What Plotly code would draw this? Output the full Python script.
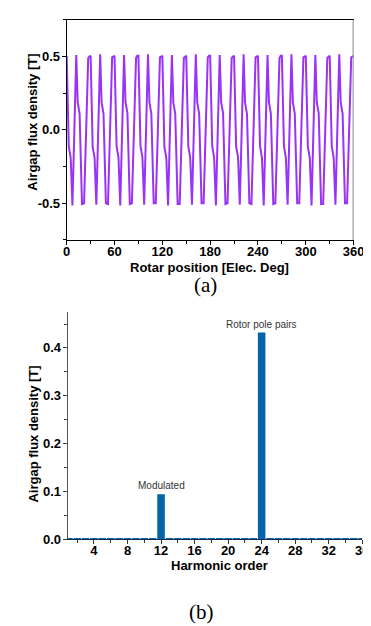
import plotly.graph_objects as go

# ---------------- Data: (a) airgap flux density waveform ----------------
rotor_position_deg = [
    0.0, 2.6, 5.0, 7.2, 12.0, 13.8, 16.2, 19.2, 21.8, 27.0, 28.5,
    30.0, 32.6, 35.0, 37.2, 42.0, 43.8, 46.2, 49.2, 51.8, 57.0, 58.5,
    60.0, 62.6, 65.0, 67.2, 72.0, 73.8, 76.2, 79.2, 81.8, 87.0, 88.5,
    90.0, 92.6, 95.0, 97.2, 102.0, 103.8, 106.2, 109.2, 111.8, 117.0, 118.5,
    120.0, 122.6, 125.0, 127.2, 132.0, 133.8, 136.2, 139.2, 141.8, 147.0, 148.5,
    150.0, 152.6, 155.0, 157.2, 162.0, 163.8, 166.2, 169.2, 171.8, 177.0, 178.5,
    180.0, 182.6, 185.0, 187.2, 192.0, 193.8, 196.2, 199.2, 201.8, 207.0, 208.5,
    210.0, 212.6, 215.0, 217.2, 222.0, 223.8, 226.2, 229.2, 231.8, 237.0, 238.5,
    240.0, 242.6, 245.0, 247.2, 252.0, 253.8, 256.2, 259.2, 261.8, 267.0, 268.5,
    270.0, 272.6, 275.0, 277.2, 282.0, 283.8, 286.2, 289.2, 291.8, 297.0, 298.5,
    300.0, 302.6, 305.0, 307.2, 312.0, 313.8, 316.2, 319.2, 321.8, 327.0, 328.5,
    330.0, 332.6, 335.0, 337.2, 342.0, 343.8, 346.2, 349.2, 351.8, 357.0, 358.5,
    360.0,
]
flux_density_T = [
    0.505, -0.11, -0.19, -0.515, 0.510, 0.190, 0.110, -0.505, -0.500, 0.490, 0.500,
    0.505, -0.115, -0.19, -0.510, 0.515, 0.185, 0.110, -0.500, -0.505, 0.495, 0.500,
    0.505, -0.110, -0.19, -0.515, 0.510, 0.190, 0.115, -0.505, -0.500, 0.490, 0.505,
    0.505, -0.110, -0.185, -0.510, 0.515, 0.190, 0.110, -0.500, -0.500, 0.495, 0.500,
    0.505, -0.115, -0.19, -0.515, 0.510, 0.185, 0.110, -0.505, -0.505, 0.490, 0.500,
    0.505, -0.110, -0.19, -0.510, 0.515, 0.190, 0.110, -0.500, -0.500, 0.495, 0.505,
    0.505, -0.110, -0.19, -0.515, 0.510, 0.190, 0.115, -0.505, -0.500, 0.490, 0.500,
    0.505, -0.115, -0.185, -0.510, 0.515, 0.185, 0.110, -0.500, -0.505, 0.495, 0.500,
    0.505, -0.110, -0.19, -0.515, 0.510, 0.190, 0.110, -0.505, -0.500, 0.490, 0.505,
    0.505, -0.110, -0.19, -0.510, 0.515, 0.190, 0.110, -0.500, -0.500, 0.495, 0.500,
    0.505, -0.115, -0.19, -0.515, 0.510, 0.185, 0.115, -0.505, -0.505, 0.490, 0.500,
    0.505, -0.110, -0.19, -0.510, 0.515, 0.190, 0.110, -0.500, -0.500, 0.495, 0.500,
    0.505,
]

# ---------------- Data: (b) harmonic spectrum ----------------
harmonic_order = list(range(1, 37))
harmonic_amplitude_T = [
    0.002, 0.002, 0.002, 0.002, 0.002, 0.002, 0.002, 0.002, 0.002, 0.002, 0.002, 0.094,
    0.002, 0.002, 0.002, 0.002, 0.002, 0.002, 0.002, 0.002, 0.002, 0.002, 0.002, 0.432,
    0.002, 0.002, 0.002, 0.002, 0.002, 0.002, 0.002, 0.002, 0.002, 0.002, 0.002, 0.002,
]
peak_labels = {12: "Modulated", 24: "Rotor pole pairs"}

W, H = 371, 626
FONT = "Liberation Sans, Arial, sans-serif"
SERIF = "Liberation Serif, Times New Roman, serif"

def px_x(p):
    return p / W

def px_y(p):
    return 1 - p / H

fig = go.Figure()

fig.add_trace(go.Scatter(
    x=rotor_position_deg, y=flux_density_T, mode="lines",
    line=dict(color="#9A32F7", width=2), xaxis="x", yaxis="y",
    showlegend=False, hoverinfo="skip",
))

fig.add_trace(go.Bar(
    x=harmonic_order, y=harmonic_amplitude_T, width=0.9,
    marker=dict(color="#0565A8", line=dict(width=0)),
    xaxis="x2", yaxis="y2", showlegend=False, hoverinfo="skip",
))

tickfont = dict(family=FONT, size=13, color="black", weight="bold")

fig.update_layout(
    width=W, height=H,
    margin=dict(l=0, r=0, t=0, b=0),
    paper_bgcolor="white", plot_bgcolor="white",
    xaxis=dict(
        domain=[px_x(57), px_x(356)], range=[0, 360], anchor="y",
        tickmode="linear", tick0=0, dtick=60,
        ticks="outside", ticklen=4, tickwidth=1, tickcolor="black",
        minor=dict(ticks="outside", ticklen=3, dtick=30, tickcolor="black"),
        showline=True, linecolor="black", linewidth=1, mirror=True,
        showgrid=False, zeroline=False, tickfont=tickfont,
        ticklabelstandoff=-5, ticklabeloverflow="allow",
    ),
    yaxis=dict(
        domain=[px_y(235), px_y(12)], range=[-0.75, 0.75], anchor="x",
        tickmode="array", tickvals=[-0.5, 0.0, 0.5], ticktext=["-0.5", "0.0", "0.5"],
        ticks="outside", ticklen=4, tickwidth=1, tickcolor="black",
        minor=dict(ticks="outside", ticklen=3, tickvals=[-0.75, -0.25, 0.25, 0.75], tickcolor="black"),
        showline=True, linecolor="black", linewidth=1,
        showgrid=False, zeroline=False, tickfont=tickfont,
        ticklabelstandoff=-1,
    ),
    xaxis2=dict(
        domain=[px_x(58), px_x(365)], range=[0.86, 36], anchor="y2",
        tickmode="linear", tick0=0, dtick=4,
        ticks="outside", ticklen=4, tickwidth=1, tickcolor="#333",
        minor=dict(ticks="outside", ticklen=3, dtick=2, tickcolor="#333"),
        showline=True, linecolor="#1a2a4a", linewidth=1,
        showgrid=False, zeroline=False, tickfont=tickfont,
        ticklabelstandoff=-5, ticklabeloverflow="allow",
    ),
    yaxis2=dict(
        domain=[px_y(538), px_y(308)], range=[0, 0.475], anchor="x2",
        tickmode="linear", tick0=0, dtick=0.1, tickformat=".1f",
        ticks="outside", ticklen=4, tickwidth=1, tickcolor="#444",
        minor=dict(ticks="outside", ticklen=3, dtick=0.05, tickcolor="#444"),
        showline=True, linecolor="#555", linewidth=1,
        showgrid=False, zeroline=False, tickfont=tickfont,
        ticklabelstandoff=-1,
    ),
)

# right frame edge of the top panel (grey)
fig.add_shape(type="line", xref="x", yref="y domain", x0=360, x1=360, y0=0, y1=1,
              line=dict(color="#888888", width=2))

title_font = dict(family=FONT, size=13, color="black", weight="bold")
ann = [
    dict(text="Rotar position [Elec. Deg]", x=px_x(206), y=px_y(263), xref="paper", yref="paper",
         showarrow=False, font=title_font, xanchor="center", yanchor="middle"),
    dict(text="Airgap flux density [T]", x=px_x(21), y=px_y(116), xref="paper", yref="paper",
         showarrow=False, font=title_font, textangle=-90, xanchor="center", yanchor="middle"),
    dict(text="(a)", x=px_x(202), y=px_y(281), xref="paper", yref="paper",
         showarrow=False, font=dict(family=SERIF, size=21, color="black"),
         xanchor="center", yanchor="middle"),
    dict(text="Harmonic order", x=px_x(216), y=px_y(565), xref="paper", yref="paper",
         showarrow=False, font=title_font, xanchor="center", yanchor="middle"),
    dict(text="Airgap flux density [T]", x=px_x(22), y=px_y(432), xref="paper", yref="paper",
         showarrow=False, font=title_font, textangle=-90, xanchor="center", yanchor="middle"),
    dict(text="(b)", x=px_x(198), y=px_y(612), xref="paper", yref="paper",
         showarrow=False, font=dict(family=SERIF, size=21, color="black"),
         xanchor="center", yanchor="middle"),
]
for h, label in peak_labels.items():
    ann.append(dict(text=label, x=h, y=harmonic_amplitude_T[harmonic_order.index(h)],
                    xref="x2", yref="y2", showarrow=False, yanchor="bottom", yshift=1,
                    font=dict(family=FONT, size=10, color="#333")))
fig.update_layout(annotations=ann)

fig.write_html("out.html")
